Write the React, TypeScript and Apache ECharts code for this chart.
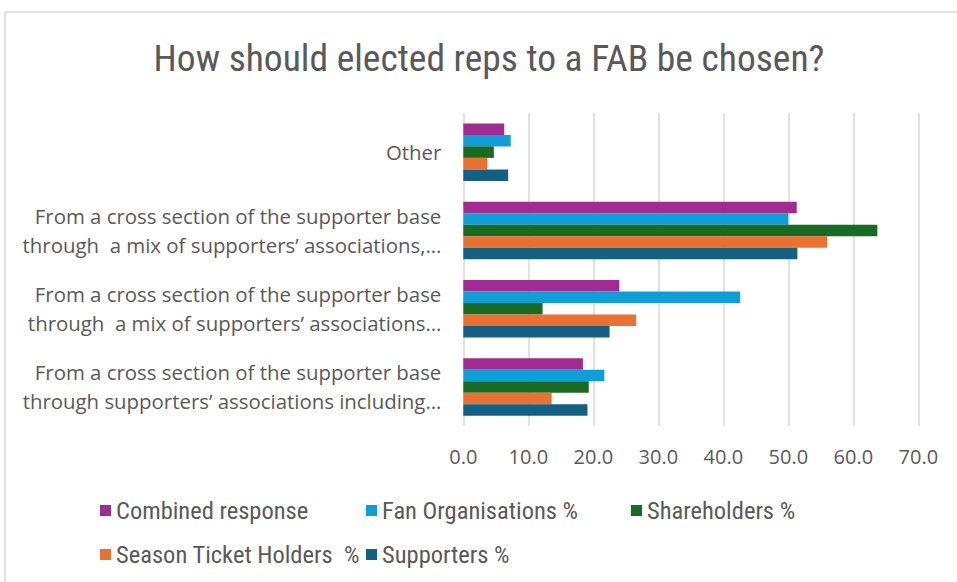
import React, { useEffect, useRef } from "react";
import * as echarts from "echarts";

const categories = [
  "Other",
  "From a cross section of the supporter base\nthrough  a mix of supporters’ associations,…",
  "From a cross section of the supporter base\nthrough  a mix of supporters’ associations…",
  "From a cross section of the supporter base\nthrough supporters’ associations including…",
];

const seriesNames = [
  "Combined response",
  "Fan Organisations %",
  "Shareholders %",
  "Season Ticket Holders  %",
  "Supporters %",
];

const combined = [6.3, 51.3, 24.0, 18.4];
const fanOrgs = [7.3, 50.0, 42.6, 21.7];
const shareholders = [4.7, 63.7, 12.2, 19.3];
const seasonTicket = [3.7, 56.0, 26.6, 13.6];
const supporters = [6.9, 51.4, 22.5, 19.1];

const seriesValues = [combined, fanOrgs, shareholders, seasonTicket, supporters];
const colors = ["#A02B93", "#0F9ED5", "#196B24", "#E97132", "#156082"];

const legendPos = [
  { left: 95, top: 493 },
  { left: 361, top: 493 },
  { left: 626, top: 493 },
  { left: 95, top: 537 },
  { left: 361, top: 537 },
];

const TEXT = "#595959";
const NARROW = "'Liberation Sans Narrow', 'Roboto Condensed', Roboto, sans-serif";
const AXISFONT = "'Open Sans', 'Noto Sans', sans-serif";

export default function App() {
  const ref = useRef<HTMLDivElement>(null);
  useEffect(() => {
    if (!ref.current) return;
    const chart = echarts.init(ref.current, null, { renderer: "svg" });
    chart.setOption({
      animation: false,
      backgroundColor: "#ffffff",
      title: {
        text: "How should elected reps to a FAB be chosen?",
        left: 484,
        textAlign: "center",
        top: 34,
        textStyle: { color: TEXT, fontSize: 37.5, fontWeight: "normal", fontFamily: NARROW },
      },
      graphic: [
        {
          type: "rect",
          shape: { x: 5, y: 12, width: 1000, height: 600 },
          style: { fill: "none", stroke: "#d9d9d9", lineWidth: 1.5 },
          silent: true,
        },
      ],
      legend: seriesNames.map((n, i) => ({
        data: [n],
        left: legendPos[i].left,
        top: legendPos[i].top,
        icon: "rect",
        itemWidth: 11,
        itemHeight: 11,
        itemGap: 0,
        selectedMode: false,
        textStyle: { color: TEXT, fontSize: 24.5, fontFamily: NARROW },
      })),
      grid: { left: 463.3, right: 38.7, top: 113, bottom: 156, containLabel: false },
      xAxis: {
        type: "value",
        min: 0,
        max: 70,
        interval: 10,
        axisLine: { show: false },
        axisTick: { show: false },
        splitLine: { show: true, lineStyle: { color: "#d9d9d9", width: 1.5 } },
        axisLabel: {
          color: TEXT,
          fontSize: 20,
          fontFamily: AXISFONT,
          margin: 20,
          formatter: (v: number) => v.toFixed(1),
        },
      },
      yAxis: {
        type: "category",
        data: categories,
        inverse: true,
        axisLine: { show: false },
        axisTick: { show: false },
        axisLabel: {
          color: TEXT,
          fontSize: 20.4,
          fontFamily: AXISFONT,
          margin: 22,
          lineHeight: 29,
          align: "right",
        },
      },
      series: seriesNames.map((n, i) => ({
        name: n,
        type: "bar",
        data: seriesValues[i],
        barWidth: 11.5,
        barGap: "0%",
        itemStyle: { color: colors[i] },
      })),
    });
    return () => chart.dispose();
  }, []);
  return (
    <div
      ref={ref}
      style={{ position: "fixed", left: 0, top: 0, width: 957, height: 582 }}
    />
  );
}
